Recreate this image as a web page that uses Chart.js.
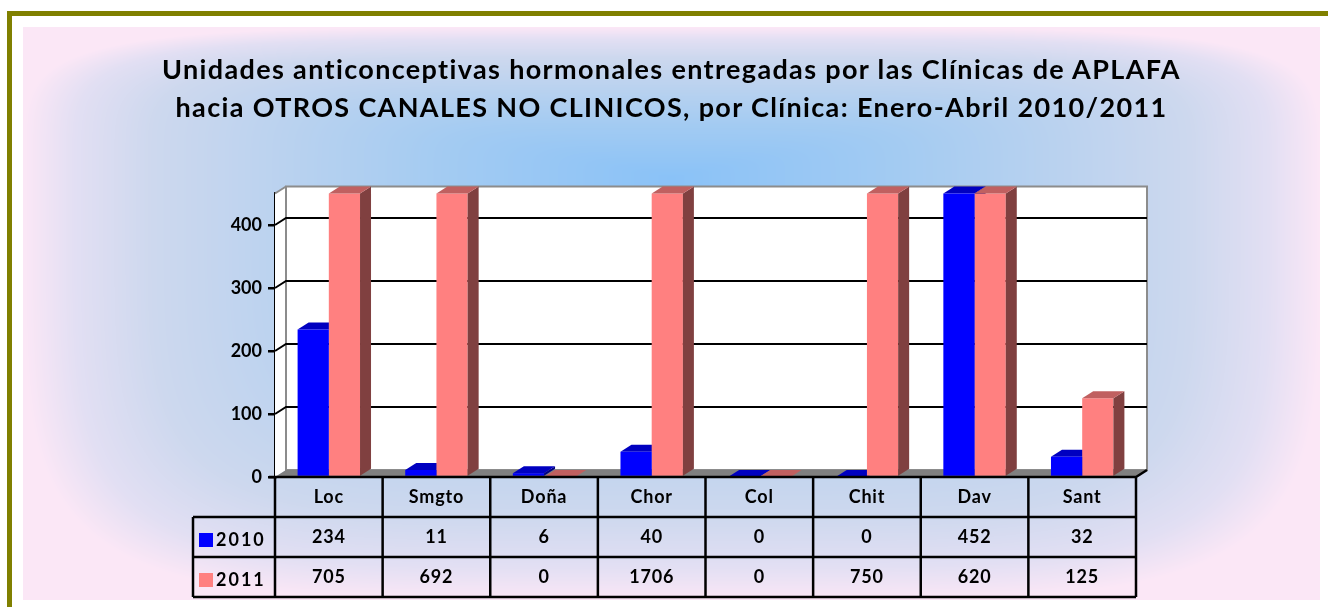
<!DOCTYPE html>
<html lang="es">
<head>
    <meta charset="UTF-8">
    <title>Unidades anticonceptivas hormonales - APLAFA</title>
    <script src="https://cdn.jsdelivr.net/npm/chart.js"></script>
    <style>
        html, body {
            margin: 0;
            padding: 0;
            width: 1328px;
            height: 607px;
            overflow: hidden;
            background: #ffffff;
            font-family: Lato, "Open Sans", sans-serif;
        }
        #frame {
            position: absolute;
            left: 7px;
            top: 11px;
            width: 1400px;
            height: 700px;
            border-top: 5px solid #808000;
            border-left: 5px solid #808000;
        }
        #panel {
            position: absolute;
            left: 23px;
            top: 27px;
        }
        #title {
            position: absolute;
            left: 23px;
            top: 50px;
            width: 1297px;
            text-align: center;
            font-weight: bold;
            font-size: 27px;
            line-height: 38px;
            color: #000;
            letter-spacing: 1.35px;
        }
        #wrap {
            position: absolute;
            left: 0;
            top: 0;
            width: 1328px;
            height: 607px;
        }
    </style>
</head>
<body>
    <div id="frame"></div>
    <canvas id="panel" width="1297" height="573"></canvas>
    <div id="title">Unidades anticonceptivas hormonales entregadas por las Clínicas de APLAFA<br>hacia OTROS CANALES NO CLINICOS, por Clínica: Enero-Abril 2010/2011</div>
    <div id="wrap"><canvas id="chart" width="1328" height="607"></canvas></div>

    <script>
        const categories = ['Loc', 'Smgto', 'Doña', 'Chor', 'Col', 'Chit', 'Dav', 'Sant'];
        const seriesNames = ['2010', '2011'];
        const values2010 = [234, 11, 6, 40, 0, 0, 452, 32];
        const values2011 = [705, 692, 0, 1706, 0, 750, 620, 125];
        const yTicks = [0, 100, 200, 300, 400];
        const yMax = 450;

        const frontColors = ['#0000ff', '#ff8080'];
        const topColors = ['#0000c0', '#c06060'];
        const sideColors = ['#000080', '#804040'];

        // depth of the 3D box
        const DX = 11;
        const DY = 7;

        // background: rectangular "from centre" gradient, blue centre to pink edges
        (function paintPanel() {
            const c = document.getElementById('panel');
            const g = c.getContext('2d');
            const W = c.width, H = c.height;
            const cx = 648, cy = 150;
            const stops = [
                [0.00, [138, 194, 247]],
                [0.35, [163, 203, 242]],
                [0.60, [186, 210, 239]],
                [0.80, [205, 216, 238]],
                [0.92, [226, 223, 243]],
                [1.00, [251, 231, 246]]
            ];
            const img = g.createImageData(W, H);
            for (let y = 0; y < H; y++) {
                const ty = y > cy ? (y - cy) / (H - cy) : (cy - y) / cy;
                for (let x = 0; x < W; x++) {
                    const tx = x > cx ? (x - cx) / (W - cx) : (cx - x) / cx;
                    let t = Math.pow(Math.pow(tx, 5) + Math.pow(ty, 5), 1 / 5);
                    if (t > 1) t = 1;
                    let k = 1;
                    while (k < stops.length - 1 && stops[k][0] < t) k++;
                    const a = stops[k - 1], b = stops[k];
                    const f = (t - a[0]) / (b[0] - a[0]);
                    const i = (y * W + x) * 4;
                    img.data[i] = a[1][0] + (b[1][0] - a[1][0]) * f;
                    img.data[i + 1] = a[1][1] + (b[1][1] - a[1][1]) * f;
                    img.data[i + 2] = a[1][2] + (b[1][2] - a[1][2]) * f;
                    img.data[i + 3] = 255;
                }
            }
            g.putImageData(img, 0, 0);
        })();

        function drawBarExtras(chart, index) {
            const ctx = chart.ctx;
            const top = chart.chartArea.top;
            const meta = chart.getDatasetMeta(index);
            meta.data.forEach(bar => {
                const left = bar.x - bar.width / 2;
                const right = bar.x + bar.width / 2;
                const y = Math.max(bar.y, top);
                const base = bar.base;
                ctx.fillStyle = sideColors[index];
                ctx.beginPath();
                ctx.moveTo(right, y);
                ctx.lineTo(right + DX, y - DY);
                ctx.lineTo(right + DX, base - DY);
                ctx.lineTo(right, base);
                ctx.closePath();
                ctx.fill();
                ctx.fillStyle = topColors[index];
                ctx.beginPath();
                ctx.moveTo(left, y);
                ctx.lineTo(right, y);
                ctx.lineTo(right + DX, y - DY);
                ctx.lineTo(left + DX, y - DY);
                ctx.closePath();
                ctx.fill();
            });
        }

        const boxPlugin = {
            id: 'box3d',
            beforeDatasetsDraw(chart) {
                const ctx = chart.ctx;
                const a = chart.chartArea;
                const yScale = chart.scales.y;
                ctx.save();
                // side wall
                ctx.fillStyle = '#ffffff';
                ctx.beginPath();
                ctx.moveTo(a.left, a.top);
                ctx.lineTo(a.left + DX, a.top - DY);
                ctx.lineTo(a.left + DX, a.bottom - DY);
                ctx.lineTo(a.left, a.bottom);
                ctx.closePath();
                ctx.fill();
                // back wall
                ctx.fillRect(a.left + DX, a.top - DY, a.right - a.left, a.bottom - a.top);
                ctx.strokeStyle = '#8c8c8c';
                ctx.lineWidth = 2;
                ctx.strokeRect(a.left + DX, a.top - DY, a.right - a.left, a.bottom - a.top);
                ctx.beginPath();
                ctx.moveTo(a.left, a.top);
                ctx.lineTo(a.left + DX, a.top - DY);
                ctx.stroke();
                // grid lines
                ctx.strokeStyle = '#000000';
                ctx.lineWidth = 2;
                yTicks.forEach(v => {
                    if (v === 0) return;
                    const y = yScale.getPixelForValue(v);
                    ctx.beginPath();
                    ctx.moveTo(a.left, y);
                    ctx.lineTo(a.left + DX, y - DY);
                    ctx.lineTo(a.right + DX, y - DY);
                    ctx.stroke();
                });
                // floor
                ctx.fillStyle = '#808080';
                ctx.beginPath();
                ctx.moveTo(a.left, a.bottom);
                ctx.lineTo(a.right, a.bottom);
                ctx.lineTo(a.right + DX, a.bottom - DY);
                ctx.lineTo(a.left + DX, a.bottom - DY);
                ctx.closePath();
                ctx.fill();
                drawBarExtras(chart, 0);
                ctx.restore();
            },
            afterDatasetsDraw(chart) {
                const ctx = chart.ctx;
                ctx.save();
                drawBarExtras(chart, 1);
                ctx.restore();
            },
            afterDraw(chart) {
                const ctx = chart.ctx;
                const a = chart.chartArea;
                const xScale = chart.scales.x;
                const colW = (a.right - a.left) / categories.length;
                const rowH = 40;
                const r0 = a.bottom;
                const r1 = r0 + rowH;
                const r2 = r1 + rowH;
                const r3 = r2 + rowH;
                const legendLeft = a.left - 82;
                ctx.save();
                ctx.strokeStyle = '#000000';
                ctx.lineWidth = 2.5;
                ctx.beginPath();
                // front floor edge and corner
                ctx.moveTo(a.left - 6, r0);
                ctx.lineTo(a.right, r0);
                ctx.lineTo(a.right + DX, r0 - DY);
                // horizontal rows
                ctx.moveTo(legendLeft, r1);
                ctx.lineTo(a.right, r1);
                ctx.moveTo(legendLeft, r2);
                ctx.lineTo(a.right, r2);
                ctx.moveTo(legendLeft, r3);
                ctx.lineTo(a.right, r3);
                ctx.moveTo(legendLeft, r1);
                ctx.lineTo(legendLeft, r3);
                for (let i = 0; i <= categories.length; i++) {
                    const x = a.left + i * colW;
                    ctx.moveTo(x, r0);
                    ctx.lineTo(x, r3);
                }
                ctx.stroke();

                ctx.fillStyle = '#000000';
                ctx.font = 'bold 18px Lato, sans-serif';
                ctx.letterSpacing = '0.8px';
                ctx.textAlign = 'center';
                ctx.textBaseline = 'middle';
                categories.forEach((c, i) => {
                    const x = xScale.getPixelForValue(i);
                    ctx.fillText(c, x, r0 + rowH / 2);
                    ctx.fillText(String(values2010[i]), x, r1 + rowH / 2);
                    ctx.fillText(String(values2011[i]), x, r2 + rowH / 2);
                });
                // legend keys
                ctx.letterSpacing = '2px';
                [values2010, values2011].forEach((vals, k) => {
                    const cy = (k === 0 ? r1 : r2) + rowH / 2 + 3;
                    ctx.fillStyle = frontColors[k];
                    ctx.fillRect(legendLeft + 6, cy - 7, 14, 14);
                    ctx.fillStyle = '#000000';
                    ctx.textAlign = 'left';
                    ctx.fillText(seriesNames[k], legendLeft + 23, cy);
                });
                ctx.restore();
            }
        };

        const ctx = document.getElementById('chart').getContext('2d');
        new Chart(ctx, {
            type: 'bar',
            data: {
                labels: categories,
                datasets: [
                    {
                        label: seriesNames[0],
                        data: values2010,
                        backgroundColor: frontColors[0],
                        borderWidth: 0
                    },
                    {
                        label: seriesNames[1],
                        data: values2011,
                        backgroundColor: frontColors[1],
                        borderWidth: 0
                    }
                ]
            },
            options: {
                responsive: false,
                animation: false,
                events: [],
                layout: {
                    padding: { top: 193.5, right: 192, bottom: 130, left: 0 }
                },
                datasets: {
                    bar: {
                        barPercentage: 1,
                        categoryPercentage: 0.58
                    }
                },
                plugins: {
                    legend: { display: false },
                    title: { display: false },
                    tooltip: { enabled: false }
                },
                scales: {
                    x: {
                        display: false
                    },
                    y: {
                        min: 0,
                        max: yMax,
                        afterFit(scale) { scale.width = 275; },
                        afterBuildTicks(scale) {
                            scale.ticks = yTicks.map(v => ({ value: v }));
                        },
                        border: { display: true, color: '#000000', width: 2.5 },
                        grid: {
                            drawOnChartArea: false,
                            drawTicks: true,
                            tickLength: 7,
                            color: '#000000',
                            lineWidth: 2.5
                        },
                        ticks: {
                            color: '#000000',
                            padding: 6,
                            font: { family: 'Lato', size: 18, weight: 'bold' }
                        }
                    }
                }
            },
            plugins: [boxPlugin]
        });
    </script>
</body>
</html>
